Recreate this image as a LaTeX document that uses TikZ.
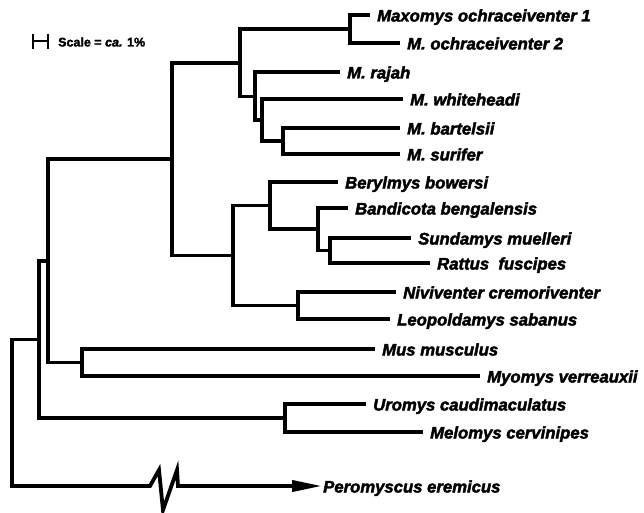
\documentclass[tikz,border=0pt]{standalone}
\usepackage{fontspec}
\setmainfont{Liberation Sans}[BoldItalicFeatures={FakeBold=2.4},BoldFeatures={FakeBold=2}]
\usetikzlibrary{arrows.meta}
\tikzset{
  leaf/.style={anchor=west,inner xsep=7pt,inner ysep=0pt,text height=13pt,text depth=0pt,
    font=\fontsize{16.7pt}{20pt}\selectfont\bfseries\itshape},
  branch/.style={line width=3.8pt}
}
\begin{document}
\begin{tikzpicture}[x=1pt,y=-1pt]
  \useasboundingbox (0,0) rectangle (644,513);
  \draw[line width=2pt] (33,34) -- (33,49) (33,41.5) -- (48,41.5) (48,34) -- (48,49);
  \node[anchor=west,inner sep=0pt,font=\fontsize{12.5pt}{14pt}\selectfont\bfseries] (scl) at (58,42) {Scale = \textit{ca.} 1\%};
  \coordinate (nmax) at (350,29);
  \coordinate (nsur) at (283,141);
  \coordinate (nwhi) at (262,120);
  \coordinate (nraj) at (255,96.5);
  \coordinate (nmaxo) at (240,63);
  \coordinate (nsun) at (330,250.5);
  \coordinate (nban) at (318,229);
  \coordinate (nber) at (270,205.5);
  \coordinate (nniv) at (298,305.5);
  \coordinate (nrat) at (233,255.5);
  \coordinate (nmur) at (172,159);
  \coordinate (nmus) at (82,362.5);
  \coordinate (na) at (48,261);
  \coordinate (nuro) at (285,418);
  \coordinate (nb) at (39,339.5);
  \coordinate (root) at (12,413);
  \coordinate (cut) at (150,486);
  \node[leaf] (mo1) at (370,15) {Maxomys ochraceiventer 1};
  \node[leaf] (mo2) at (400,43) {M. ochraceiventer 2};
  \node[leaf] (raj) at (340,72) {M. rajah};
  \node[leaf] (whi) at (403,99) {M. whiteheadi};
  \node[leaf] (bar) at (400,128) {M. bartelsii};
  \node[leaf] (sur) at (400,154) {M. surifer};
  \node[leaf] (ber) at (338,182) {Berylmys bowersi};
  \node[leaf] (ban) at (348,208) {Bandicota bengalensis};
  \node[leaf] (sun) at (411,238) {Sundamys muelleri};
  \node[leaf] (rat) at (430,263) {Rattus\ \ fuscipes};
  \node[leaf] (niv) at (396,292) {Niviventer cremoriventer};
  \node[leaf] (leo) at (390,319) {Leopoldamys sabanus};
  \node[leaf] (mus) at (375,349) {Mus musculus};
  \node[leaf] (myo) at (480,376) {Myomys verreauxii};
  \node[leaf] (uro) at (366,404) {Uromys caudimaculatus};
  \node[leaf] (mel) at (423,432) {Melomys cervinipes};
  \node[leaf,inner xsep=1pt] (per) at (322,486) {Peromyscus eremicus};
  \begin{scope}[branch]
    \draw (nmax) |- (mo1);
    \draw (nmax) |- (mo2);
    \draw (nsur) |- (bar);
    \draw (nsur) |- (sur);
    \draw (nwhi) |- (whi);
    \draw (nwhi) |- (nsur);
    \draw (nraj) |- (raj);
    \draw (nraj) |- (nwhi);
    \draw (nmaxo) |- (nmax);
    \draw (nmaxo) |- (nraj);
    \draw (nsun) |- (sun);
    \draw (nsun) |- (rat);
    \draw (nban) |- (ban);
    \draw (nban) |- (nsun);
    \draw (nber) |- (ber);
    \draw (nber) |- (nban);
    \draw (nniv) |- (niv);
    \draw (nniv) |- (leo);
    \draw (nrat) |- (nber);
    \draw (nrat) |- (nniv);
    \draw (nmur) |- (nmaxo);
    \draw (nmur) |- (nrat);
    \draw (nmus) |- (mus);
    \draw (nmus) |- (myo);
    \draw (na) |- (nmur);
    \draw (na) |- (nmus);
    \draw (nuro) |- (uro);
    \draw (nuro) |- (mel);
    \draw (nb) |- (na);
    \draw (nb) |- (nuro);
    \draw (root) |- (nb);
    \draw[-{Triangle[length=30pt,width=11pt]},line join=miter] (root) |- (cut) -- ++(9,-16) -- ++(4,40) -- ++(14,-40) -- ++(1,16) -- (per);
  \end{scope}
\end{tikzpicture}
\end{document}
